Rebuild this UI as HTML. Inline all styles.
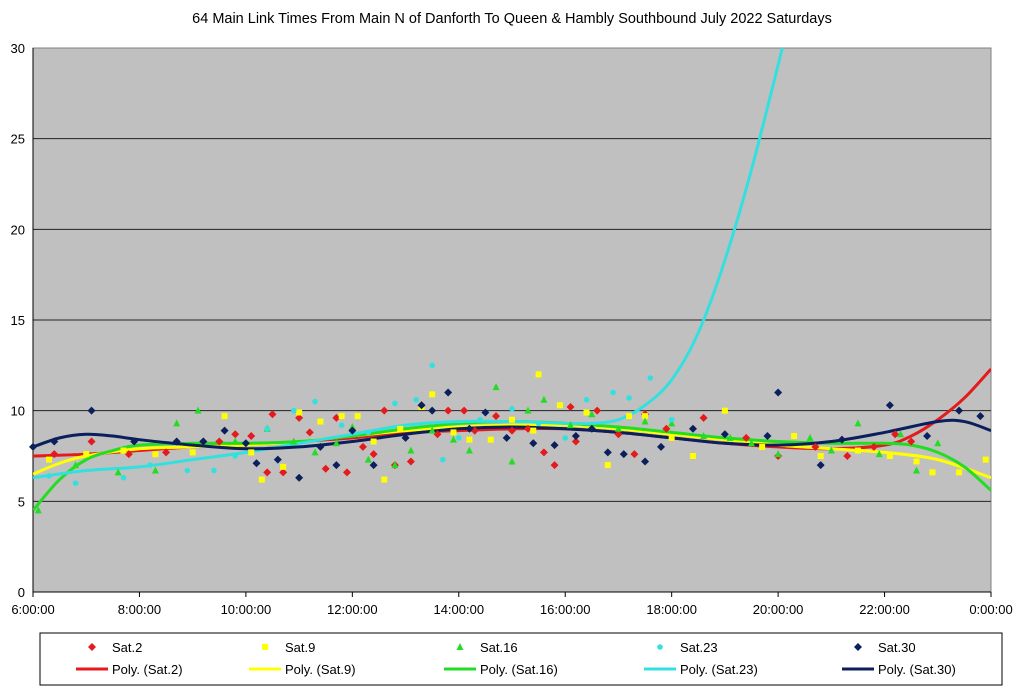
<!DOCTYPE html>
<html><head><meta charset="utf-8"><style>
body{margin:0;background:#fff;width:1024px;height:689px;overflow:hidden;font-family:"Liberation Sans",Arial,sans-serif}
</style></head><body>
<svg id="chart" width="1024" height="689" xmlns="http://www.w3.org/2000/svg">
<text x="512" y="23" text-anchor="middle" font-size="14.5" fill="#000">64 Main Link Times From Main N of Danforth To Queen &amp; Hambly Southbound July 2022  Saturdays</text>
<rect x="33" y="48" width="958" height="544" fill="#c0c0c0" stroke="#808080"/>
<g id="grid"></g><g id="axes"></g><g id="trends"></g><g id="points"></g><g id="legend"></g>
</svg>
<script>
const xTicks=["6:00:00","8:00:00","10:00:00","12:00:00","14:00:00","16:00:00","18:00:00","20:00:00","22:00:00","0:00:00"];
const yTicks=[0,5,10,15,20,25,30];
const seriesNames=["Sat.2","Sat.9","Sat.16","Sat.23","Sat.30"];
const seriesColors=["#e41a1c","#ffff00","#22dd22","#33e0e0","#0a1f5c"];
const sat2=[[6.4,7.6],[7.1,8.3],[7.8,7.6],[8.5,7.7],[9.2,8.3],[9.5,8.3],[9.8,8.7],[10.1,8.6],[10.5,9.8],[10.4,6.6],[10.7,6.6],[11.0,9.6],[11.2,8.8],[11.5,6.8],[11.7,9.6],[11.9,6.6],[12.2,8.0],[12.4,7.6],[12.6,10.0],[12.8,7.0],[13.1,7.2],[13.3,10.3],[13.6,8.7],[13.8,10.0],[14.1,10.0],[14.3,8.9],[14.7,9.7],[15.0,8.9],[15.3,9.0],[15.6,7.7],[15.8,7.0],[16.1,10.2],[16.2,8.3],[16.6,10.0],[17.0,8.7],[17.3,7.6],[17.5,9.8],[17.9,9.0],[18.6,9.6],[19.4,8.5],[20.0,7.5],[20.7,8.0],[21.3,7.5],[21.8,8.0],[22.2,8.7],[22.5,8.3]];
const sat9=[[6.3,7.3],[7.0,7.6],[7.7,7.8],[8.3,7.6],[9.0,7.7],[9.6,9.7],[10.1,7.7],[10.3,6.2],[10.7,6.9],[11.0,9.9],[11.4,9.4],[11.8,9.7],[12.1,9.7],[12.4,8.3],[12.6,6.2],[12.9,9.0],[13.3,10.2],[13.5,10.9],[13.9,8.8],[14.2,8.4],[14.6,8.4],[15.0,9.5],[15.4,8.9],[15.5,12.0],[15.9,10.3],[16.4,9.9],[16.8,7.0],[17.2,9.7],[17.5,9.7],[18.0,8.5],[18.4,7.5],[19.0,10.0],[19.7,8.0],[20.3,8.6],[20.8,7.5],[21.5,7.8],[22.1,7.5],[22.6,7.2],[22.9,6.6],[23.4,6.6],[23.9,7.3]];
const sat16=[[6.1,4.5],[6.8,7.0],[7.6,6.6],[8.3,6.7],[8.7,9.3],[9.1,10.0],[9.8,8.3],[10.4,9.0],[10.9,8.3],[11.3,7.7],[11.7,8.2],[12.0,9.1],[12.3,7.3],[12.8,7.0],[13.1,7.8],[13.5,8.9],[13.9,8.4],[14.2,7.8],[14.7,11.3],[15.0,7.2],[15.3,10.0],[15.6,10.6],[16.1,9.2],[16.5,9.8],[17.0,9.0],[17.5,9.4],[18.0,9.3],[18.6,8.6],[19.1,8.5],[19.5,8.2],[20.0,7.6],[20.6,8.5],[21.0,7.8],[21.5,9.3],[21.9,7.6],[22.3,8.7],[22.6,6.7],[23.0,8.2]];
const sat23=[[6.3,6.4],[6.8,6.0],[7.7,6.3],[8.2,7.0],[8.9,6.7],[9.4,6.7],[9.8,7.5],[10.4,9.0],[10.9,10.0],[11.3,10.5],[11.8,9.2],[12.3,8.8],[12.8,10.4],[13.2,10.6],[13.5,12.5],[13.7,7.3],[14.0,8.5],[14.4,9.5],[15.0,10.1],[15.5,9.3],[16.0,8.5],[16.4,10.6],[16.9,11.0],[17.2,10.7],[17.6,11.8],[18.0,9.5]];
const sat30=[[6.0,8.0],[6.4,8.3],[7.1,10.0],[7.9,8.3],[8.7,8.3],[9.2,8.3],[9.6,8.9],[10.0,8.2],[10.2,7.1],[10.6,7.3],[11.0,6.3],[11.4,8.0],[11.7,7.0],[12.0,8.9],[12.4,7.0],[13.0,8.5],[13.3,10.3],[13.5,10.0],[13.8,11.0],[14.2,9.0],[14.5,9.9],[14.9,8.5],[15.4,8.2],[15.8,8.1],[16.2,8.6],[16.5,9.0],[16.8,7.7],[17.1,7.6],[17.5,7.2],[17.8,8.0],[18.4,9.0],[19.0,8.7],[19.8,8.6],[20.0,11.0],[20.8,7.0],[21.2,8.4],[22.1,10.3],[22.8,8.6],[23.4,10.0],[23.8,9.7]];
const trend2=[[6,7.5],[7,7.6],[8,7.8],[9,8.0],[10,8.1],[11,8.3],[12,8.5],[13,8.8],[14,8.9],[15,9.0],[16,9.0],[17,8.8],[18,8.5],[19,8.2],[20,8.0],[21,7.9],[22,8.1],[22.5,8.6],[23,9.5],[23.5,10.7],[24,12.3]];
const trend9=[[6,6.5],[6.5,7.1],[7,7.5],[8,7.9],[9,8.0],[10,8.1],[11,8.3],[12,8.6],[13,8.9],[14,9.1],[15,9.2],[16,9.2],[17,9.0],[18,8.7],[19,8.4],[20,8.1],[21,7.9],[22,7.7],[23,7.3],[24,6.3]];
const trend16=[[6,4.5],[6.5,6.2],[7,7.3],[7.5,7.8],[8,8.1],[9,8.2],[10,8.2],[11,8.3],[12,8.6],[13,9.0],[14,9.3],[15,9.4],[16,9.3],[17,9.1],[18,8.8],[19,8.5],[20,8.3],[21,8.2],[22,8.2],[22.5,8.1],[23,7.7],[23.5,6.9],[24,5.6]];
const trend23=[[6,6.3],[7,6.7],[8,6.9],[9,7.3],[10,7.7],[11,8.2],[12,8.7],[13,9.2],[14,9.4],[15,9.4],[16,9.3],[16.5,9.3],[17,9.5],[17.5,10.3],[18,11.7],[18.5,14.3],[19,18.3],[19.5,23.3],[20.08,30]];
const trend30=[[6,8.0],[6.5,8.5],[7,8.7],[7.5,8.6],[8,8.4],[9,8.1],[10,7.9],[11,8.0],[12,8.3],[13,8.7],[14,9.0],[15,9.1],[16,9.0],[17,8.8],[18,8.5],[19,8.2],[20,8.1],[21,8.3],[22,8.8],[23,9.4],[23.5,9.4],[24,8.9]];
const seriesPoints=[sat2,sat9,sat16,sat23,sat30];
const trends=[trend2,trend9,trend16,trend23,trend30];
const markers=["diamond","square","triangle","circle","diamond"];

const NS="http://www.w3.org/2000/svg";
const X0=33,X1=991,Y0=592,Y1=48;
function xs(h){return X0+(h-6)/18*(X1-X0);}
function ys(v){return Y0-v/30*(Y0-Y1);}
function mk(tag,attrs,parent){const e=document.createElementNS(NS,tag);for(const k in attrs)e.setAttribute(k,attrs[k]);parent.appendChild(e);return e;}
const grid=document.getElementById('grid'),axes=document.getElementById('axes');
yTicks.forEach(v=>{
  if(v>0&&v<30){const l=mk('line',{x1:X0,x2:X1,y1:ys(v),y2:ys(v),stroke:'#222','stroke-width':1},grid);
  
  }
  const t=mk('text',{x:X0-8,y:ys(v)+5,'text-anchor':'end','font-size':13},axes);t.textContent=v;
  
  
});
const ax=mk('line',{x1:X0,x2:X0,y1:Y1,y2:Y0,stroke:'#000'},axes);


const bx=mk('line',{x1:X0,x2:X1,y1:Y0,y2:Y0,stroke:'#000'},axes);


xTicks.forEach((s,i)=>{
  const x=xs(6+i*2);
  mk('line',{x1:x,x2:x,y1:Y0,y2:Y0+5,stroke:'#000'},axes);
  const t=mk('text',{x:x,y:Y0+22,'text-anchor':'middle','font-size':13},axes);t.textContent=s;
  
  
});
function marker(type,x,y,c,parent,s){
  s=s||1;let e;
  if(type==='diamond')e=mk('polygon',{points:`${x},${y-4*s} ${x+4*s},${y} ${x},${y+4*s} ${x-4*s},${y}`,fill:c},parent);
  else if(type==='square')e=mk('rect',{x:x-3*s,y:y-3*s,width:6*s,height:6*s,fill:c},parent);
  else if(type==='triangle')e=mk('polygon',{points:`${x},${y-4*s} ${x+3.5*s},${y+3*s} ${x-3.5*s},${y+3*s}`,fill:c},parent);
  else e=mk('circle',{cx:x,cy:y,r:2.8*s,fill:c},parent);
  return e;
}
function smoothPath(pts){
  const p=pts.map(d=>[xs(d[0]),ys(d[1])]);let d=`M${p[0][0]},${p[0][1]}`;
  for(let i=0;i<p.length-1;i++){const a=p[i-1]||p[i],b=p[i],c=p[i+1],e=p[i+2]||c;
    d+=` C${b[0]+(c[0]-a[0])/6},${b[1]+(c[1]-a[1])/6} ${c[0]-(e[0]-b[0])/6},${c[1]-(e[1]-b[1])/6} ${c[0]},${c[1]}`;}
  return d;
}
const tg=document.getElementById('trends'),pg=document.getElementById('points');
const cp=mk('clipPath',{id:'clip'},document.getElementById('chart'));mk('rect',{x:X0,y:Y1,width:X1-X0,height:Y0-Y1},cp);
tg.setAttribute('clip-path','url(#clip)');
trends.forEach((t,i)=>{
  const p=mk('path',{d:smoothPath(t),fill:'none',stroke:seriesColors[i],'stroke-width':3},tg);
  
  
});
seriesPoints.forEach((pts,i)=>pts.forEach(d=>{
  const m=marker(markers[i],xs(d[0]),ys(d[1]),seriesColors[i],pg);
  
  
}));
const lg=document.getElementById('legend');
const box=mk('rect',{x:40,y:633,width:962,height:52,fill:'#fff',stroke:'#000'},lg);


const lx=[92,265,460,660,858];
seriesNames.forEach((n,i)=>{
  const g1=mk('g',{},lg);
  
  
  marker(markers[i],lx[i],647,seriesColors[i],g1);
  const t=mk('text',{x:lx[i]+20,y:652,'font-size':13},g1);t.textContent=n;
  const g2=mk('g',{},lg);
  
  
  mk('line',{x1:lx[i]-16,x2:lx[i]+16,y1:669,y2:669,stroke:seriesColors[i],'stroke-width':3},g2);
  const t2=mk('text',{x:lx[i]+20,y:674,'font-size':13},g2);t2.textContent='Poly. ('+n+')';
});
</script>
</body></html>
